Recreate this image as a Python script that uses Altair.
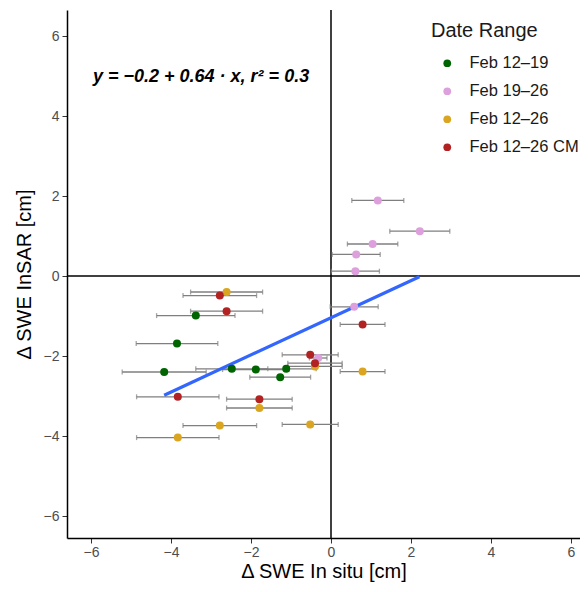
import altair as alt
import pandas as pd

# ---- data ----
groups = ["Feb 12–19", "Feb 19–26", "Feb 12–26", "Feb 12–26 CM"]
colors = ["#006400", "#DDA0DD", "#DAA520", "#B22222"]

g1_x = [-3.38, -3.85, -4.17, -2.48, -1.88, -1.12, -1.27]
g1_y = [-0.99, -1.69, -2.40, -2.32, -2.34, -2.32, -2.53]
g1_e = [0.98, 1.02, 1.05, 0.90, 0.83, 0.75, 0.76]

g2_x = [1.17, 2.22, 1.04, 0.63, 0.61, 0.58, -0.32]
g2_y = [1.89, 1.12, 0.80, 0.54, 0.12, -0.77, -2.05]
g2_e = [0.65, 0.75, 0.63, 0.60, 0.60, 0.60, 0.22]

g3_x = [-3.83, -2.78, -2.61, -1.79, -0.52, -0.40, 0.79]
g3_y = [-4.04, -3.74, -0.40, -3.30, -3.71, -2.26, -2.39]
g3_e = [1.03, 0.92, 0.90, 0.82, 0.70, 0.68, 0.56]

g4_x = [-3.83, -2.78, -2.61, -1.79, -0.52, -0.40, 0.79]
g4_y = [-3.02, -0.49, -0.88, -3.08, -1.97, -2.18, -1.21]
g4_e = [1.03, 0.92, 0.90, 0.82, 0.70, 0.68, 0.56]

fit_x = [-4.17, 2.21]
fit_y = [-2.98, -0.02]

x_ticks = [-6, -4, -2, 0, 2, 4, 6]
y_ticks = [-6, -4, -2, 0, 2, 4, 6]

equation = "y = −0.2 + 0.64 · x,  r² = 0.3"

# ---- build tables ----
rows = []
for name, xs, ys, es in zip(groups, [g1_x, g2_x, g3_x, g4_x],
                            [g1_y, g2_y, g3_y, g4_y], [g1_e, g2_e, g3_e, g4_e]):
    for a, b, e in zip(xs, ys, es):
        rows.append({"group": name, "insitu": a, "insar": b,
                     "lo": a - e, "hi": a + e, "order": len(rows)})
df = pd.DataFrame(rows)
fit = pd.DataFrame({"insitu": fit_x, "insar": fit_y})

FONT = "Liberation Sans"
xscale = alt.Scale(domain=[-6.6, 6.225], nice=False, zero=False)
yscale = alt.Scale(domain=[-6.55, 6.65], nice=False, zero=False)
xaxis = alt.Axis(values=x_ticks, title="Δ SWE In situ [cm]", grid=False)
yaxis = alt.Axis(values=y_ticks, title="Δ SWE InSAR [cm]", grid=False)


def X(field, **kw):
    return alt.X(field, type="quantitative", scale=xscale, axis=xaxis, **kw)


def Y(field, **kw):
    return alt.Y(field, type="quantitative", scale=yscale, axis=yaxis, **kw)


hline = alt.Chart(pd.DataFrame({"insar": [0]})).mark_rule(
    color="black", strokeWidth=1.5).encode(y=Y("insar"))
vline = alt.Chart(pd.DataFrame({"insitu": [0]})).mark_rule(
    color="black", strokeWidth=1.5).encode(x=X("insitu"))

bars = alt.Chart(df).mark_rule(color="#7f7f7f", strokeWidth=1.3).encode(
    x=X("lo"), x2="hi", y=Y("insar"))
caps = alt.Chart(df).transform_fold(["lo", "hi"], as_=["end", "val"]).mark_tick(
    color="#7f7f7f", orient="vertical", size=5, thickness=1.3).encode(
    x=X("val"), y=Y("insar"))

line = alt.Chart(fit).mark_line(color="#3366FF", strokeWidth=3.2).encode(
    x=X("insitu"), y=Y("insar"))

points = alt.Chart(df).mark_circle(size=64, opacity=1).encode(
    x=X("insitu"), y=Y("insar"),
    order=alt.Order("order:Q"),
    color=alt.Color("group:N",
                    scale=alt.Scale(domain=groups, range=colors),
                    sort=groups,
                    legend=alt.Legend(title=None, orient="none",
                                      legendX=372, legendY=45,
                                      labelFontSize=16.5, labelFont=FONT,
                                      labelColor="#1a1a1a",
                                      symbolSize=60, symbolType="circle",
                                      symbolStrokeWidth=0, labelOffset=14,
                                      rowPadding=11, padding=0)))

eq = alt.Chart(pd.DataFrame({"t": [equation]})).mark_text(
    align="left", baseline="middle", font=FONT, fontSize=18,
    fontWeight="bold", fontStyle="italic", color="black").encode(
    text="t:N", x=alt.value(26), y=alt.value(67))

ltitle = alt.Chart(pd.DataFrame({"t": ["Date Range"]})).mark_text(
    align="left", baseline="middle", font=FONT, fontSize=20,
    color="#1a1a1a").encode(text="t:N", x=alt.value(364), y=alt.value(21))

chart = alt.layer(hline, vline, bars, caps, line, points, eq, ltitle).properties(
    width=513, height=528,
    autosize=alt.AutoSizeParams(type="none"),
    padding={"left": 59, "top": 2, "right": 0, "bottom": 46},
).configure_view(stroke=None).configure_axis(
    domainColor="black", domainWidth=1.5, tickColor="#333333", tickSize=5,
    labelFont=FONT, labelFontSize=14, labelColor="#4d4d4d", labelPadding=3,
    titleFont=FONT, titleFontSize=20, titleFontWeight="normal", titleColor="black",
).configure_axisX(titlePadding=2, labelPadding=2).configure_axisY(titlePadding=9)

chart.save("out.html", embed_options={"renderer": "svg", "actions": False})
